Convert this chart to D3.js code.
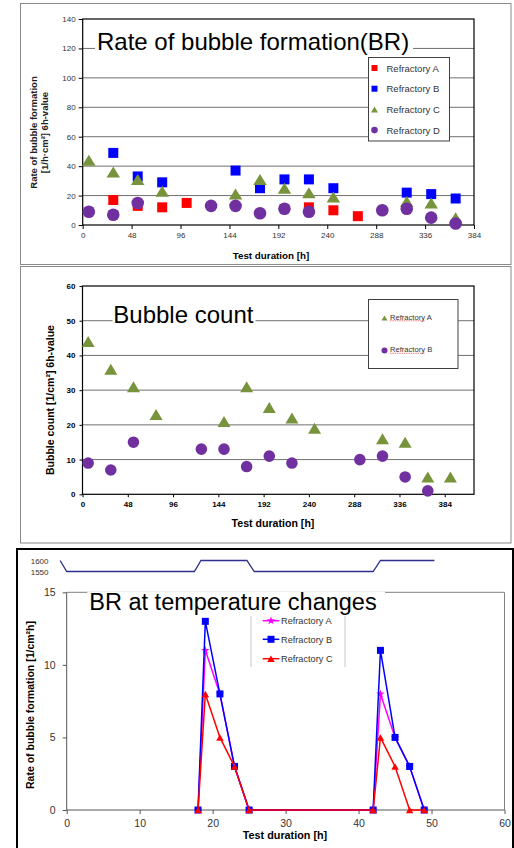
<!DOCTYPE html>
<html><head><meta charset="utf-8">
<script src="https://cdn.jsdelivr.net/npm/d3@7"></script>
<style>
body{margin:0;background:#fff}
svg{display:block;font-family:"Liberation Sans",Arial,sans-serif}
</style>
</head><body><svg id="c" width="514" height="848"></svg>
<script>
// ---------- Panel 1: Rate of bubble formation (BR) ----------
const p1XTicks = [0,48,96,144,192,240,288,336,384];
const p1YTicks = [0,20,40,60,80,100,120,140];
const p1AX = [30,54,78,102,222,246,270];
const p1AY = [17,13,12,15,12,10,6];
const p1BX = [30,54,78,150,174,198,222,246,318,342,366];
const p1BY = [49,33,29,37,25,31,31,25,22,21,18];
const p1CX = [6,30,54,78,150,174,198,222,246,318,342,366];
const p1CY = [44,36,31,23,21,31,25,22,19,16,15,5];
const p1DX = [6,30,54,126,150,174,198,222,294,318,342,366];
const p1DY = [9,7,15,13,13,8,11,9,10,11,5,1];
const p1Legend = ["Refractory A","Refractory B","Refractory C","Refractory D"];

// ---------- Panel 2: Bubble count ----------
const p2XTicks = [0,48,96,144,192,240,288,336,384];
const p2YTicks = [0,10,20,30,40,50,60];
const p2AX = [6,30,54,78,150,174,198,222,246,318,342,366,390];
const p2AY = [44,36,31,23,21,31,25,22,19,16,15,5,5];
const p2BX = [6,30,54,126,150,174,198,222,294,318,342,366];
const p2BY = [9,7,15,13,13,8,11,9,10,11,5,1];
const p2Legend = ["Refractory A","Refractory B"];

// ---------- Panel 3: BR at temperature changes ----------
const p3XTicks = [0,10,20,30,40,50,60];
const p3YTicks = [0,5,10,15];
const p3X  = [18,19,21,23,25,42,43,45,47,49];
const p3A  = [0,11,8,3,0,0,8,5,3,0];
const p3B  = [0,13,8,3,0,0,11,5,3,0];
const p3C  = [0,8,5,3,0,0,5,3,0,0];
const p3Legend = ["Refractory A","Refractory B","Refractory C"];
const tempX = [-0.9,0,17.5,18.4,24.7,25.7,42,43,50.4];
const tempY = [1600,1550,1550,1600,1600,1550,1550,1600,1600];
const tempTicks = [1550,1600];

const RED="#FF0000", BLUE="#0000FF", GREEN="#77933C", PURPLE="#7030A0", MAG="#FF00FF";
const svg = d3.select("#c");

function tri(w,h){ return `M0,${-h/2}L${w/2},${h/2}L${-w/2},${h/2}Z`; }
function sq(s){ return `M${-s/2},${-s/2}h${s}v${s}h${-s}Z`; }
function circ(r){ return `M${r},0A${r},${r} 0 1,1 ${-r},0A${r},${r} 0 1,1 ${r},0Z`; }

function styleAxis(g, size, weight, color){
  g.select(".domain").remove();
  g.selectAll("text").attr("font-size",size).attr("font-weight",weight).attr("fill",color)
   .attr("font-family",'"Liberation Sans",Arial,sans-serif');
  g.selectAll("line").attr("stroke","#000");
}

// ================= PANEL 1 =================
svg.append("rect").attr("x",20.5).attr("y",3.5).attr("width",490.5).attr("height",261)
  .attr("fill","#fff").attr("stroke","#8a8a8a");
const x1 = d3.scaleLinear().domain([0,384]).range([82.7,474]);
const y1 = d3.scaleLinear().domain([0,140]).range([225,19]);
const g1 = svg.append("g");
g1.selectAll(".grid").data(p1YTicks.filter(d=>d>0&&d<140)).join("line")
  .attr("x1",x1(0)).attr("x2",x1(384)).attr("y1",d=>y1(d)).attr("y2",d=>y1(d))
  .attr("stroke","#707070").attr("stroke-width",1);
g1.append("rect").attr("x",x1(0)).attr("y",y1(140)).attr("width",x1(384)-x1(0)).attr("height",y1(0)-y1(140))
  .attr("fill","none").attr("stroke","#000").attr("stroke-width",1.2);
const ax1y = g1.append("g").attr("transform",`translate(${x1(0)},0)`)
  .call(d3.axisLeft(y1).tickValues(p1YTicks).tickSize(4).tickPadding(3));
styleAxis(ax1y,8,"normal","#333");
const ax1x = g1.append("g").attr("transform",`translate(0,${y1(0)})`)
  .call(d3.axisBottom(x1).tickValues(p1XTicks).tickSize(4).tickPadding(3));
styleAxis(ax1x,8,"normal","#333");
// series
g1.selectAll(".a").data(p1AX.map((x,i)=>[x,p1AY[i]])).join("path")
  .attr("transform",d=>`translate(${x1(d[0])},${y1(d[1])})`).attr("d",sq(10)).attr("fill",RED);
g1.selectAll(".b").data(p1BX.map((x,i)=>[x,p1BY[i]])).join("path")
  .attr("transform",d=>`translate(${x1(d[0])},${y1(d[1])})`).attr("d",sq(10)).attr("fill",BLUE);
g1.selectAll(".c").data(p1CX.map((x,i)=>[x,p1CY[i]])).join("path")
  .attr("transform",d=>`translate(${x1(d[0])},${y1(d[1])})`).attr("d",tri(13.5,11)).attr("fill",GREEN);
g1.selectAll(".d").data(p1DX.map((x,i)=>[x,p1DY[i]])).join("path")
  .attr("transform",d=>`translate(${x1(d[0])},${y1(d[1])})`).attr("d",circ(6.3)).attr("fill",PURPLE);
// title
g1.append("rect").attr("x",95).attr("y",28).attr("width",318).attr("height",27).attr("fill","#fff");
g1.append("text").attr("x",97).attr("y",49.5).attr("font-size",24).attr("fill","#000").text("Rate of bubble formation(BR)");
// legend
g1.append("rect").attr("x",368.5).attr("y",57.5).attr("width",81).attr("height",83.5).attr("fill","#fff").attr("stroke","#404040");
const l1Marks=[sq(6),sq(6),tri(7,6),circ(3.3)], l1Col=[RED,BLUE,GREEN,PURPLE];
p1Legend.forEach((t,i)=>{
  const yy = 68 + i*20.7;
  g1.append("path").attr("transform",`translate(374.5,${yy})`).attr("d",l1Marks[i]).attr("fill",l1Col[i]);
  g1.append("text").attr("x",386.5).attr("y",yy+3.5).attr("font-size",9.5).attr("fill","#333").text(t);
});
// axis titles
g1.append("text").attr("transform","translate(36.5,132.5) rotate(-90)").attr("text-anchor","middle")
  .attr("font-size",9.5).attr("font-weight","bold").attr("fill","#222").text("Rate of bubble formation");
g1.append("text").attr("transform","translate(47.5,132.5) rotate(-90)").attr("text-anchor","middle")
  .attr("font-size",9.5).attr("font-weight","bold").attr("fill","#222").text("[1/h·cm²] 6h-value");
g1.append("text").attr("x",271).attr("y",258.5).attr("text-anchor","middle")
  .attr("font-size",9.8).attr("font-weight","bold").attr("fill","#000").text("Test duration [h]");

// ================= PANEL 2 =================
svg.append("rect").attr("x",20.5).attr("y",266.5).attr("width",490.5).attr("height",276.5)
  .attr("fill","#fff").attr("stroke","#8a8a8a");
const x2 = d3.scaleLinear().domain([0,415]).range([82.5,474]);
const y2 = d3.scaleLinear().domain([0,60]).range([494.3,286]);
const g2 = svg.append("g");
g2.selectAll(".grid").data(p2YTicks.filter(d=>d>0&&d<60)).join("line")
  .attr("x1",x2(0)).attr("x2",x2(415)).attr("y1",d=>y2(d)).attr("y2",d=>y2(d))
  .attr("stroke","#707070").attr("stroke-width",1);
g2.append("rect").attr("x",x2(0)).attr("y",y2(60)).attr("width",x2(415)-x2(0)).attr("height",y2(0)-y2(60))
  .attr("fill","none").attr("stroke","#000").attr("stroke-width",1.2);
const ax2y = g2.append("g").attr("transform",`translate(${x2(0)},0)`)
  .call(d3.axisLeft(y2).tickValues(p2YTicks).tickSize(3).tickPadding(4));
styleAxis(ax2y,8,"bold","#000");
const ax2x = g2.append("g").attr("transform",`translate(0,${y2(0)})`)
  .call(d3.axisBottom(x2).tickValues(p2XTicks).tickSize(3).tickPadding(4));
styleAxis(ax2x,8,"bold","#000");
g2.selectAll(".a").data(p2AX.map((x,i)=>[x,p2AY[i]])).join("path")
  .attr("transform",d=>`translate(${x2(d[0])},${y2(d[1])})`).attr("d",tri(13,11)).attr("fill",GREEN);
g2.selectAll(".b").data(p2BX.map((x,i)=>[x,p2BY[i]])).join("path")
  .attr("transform",d=>`translate(${x2(d[0])},${y2(d[1])})`).attr("d",circ(5.8)).attr("fill",PURPLE);
g2.append("rect").attr("x",112.5).attr("y",303).attr("width",143).attr("height",25).attr("fill","#fff");
g2.append("text").attr("x",113.3).attr("y",323.3).attr("font-size",24).attr("fill","#000").text("Bubble count");
g2.append("rect").attr("x",368.5).attr("y",299.5).attr("width",89.5).attr("height",69).attr("fill","#fff").attr("stroke","#404040");
const l2Marks=[tri(6,5),circ(3)], l2Col=[GREEN,PURPLE], l2Y=[318,350.5];
p2Legend.forEach((t,i)=>{
  const yy=l2Y[i];
  g2.append("path").attr("transform",`translate(384.5,${yy})`).attr("d",l2Marks[i]).attr("fill",l2Col[i]);
  g2.append("line").attr("x1",390).attr("x2",425).attr("y1",yy+2.8).attr("y2",yy+2.8)
    .attr("stroke","#f06060").attr("stroke-width",0.8).attr("stroke-dasharray","1.5,0.8");
  g2.append("text").attr("x",390).attr("y",yy+1.5).attr("font-size",7.6).attr("fill","#333").text(t);
});
g2.append("text").attr("transform","translate(53.5,400) rotate(-90)").attr("text-anchor","middle")
  .attr("font-size",10.5).attr("font-weight","bold").attr("fill","#000").text("Bubble count [1/cm²] 6h-value");
g2.append("text").attr("x",273).attr("y",527).attr("text-anchor","middle")
  .attr("font-size",10.6).attr("font-weight","bold").attr("fill","#000").text("Test duration [h]");

// ================= PANEL 3 =================
svg.append("rect").attr("x",17).attr("y",549).attr("width",496).attr("height",301)
  .attr("fill","#fff").attr("stroke","#000").attr("stroke-width",2);
const x3 = d3.scaleLinear().domain([0,60]).range([66.7,504.5]);
const y3 = d3.scaleLinear().domain([0,15]).range([810,592.3]);
const yT = d3.scaleLinear().domain([1550,1600]).range([571.5,560.5]);
const g3 = svg.append("g");
// temperature profile
g3.append("path").datum(tempX.map((x,i)=>[x,tempY[i]]))
  .attr("d",d3.line().x(d=>x3(d[0])).y(d=>yT(d[1])))
  .attr("fill","none").attr("stroke","#2E2E8C").attr("stroke-width",1.3);
tempTicks.forEach(v=>{
  g3.append("text").attr("x",48.5).attr("y",yT(v)+3).attr("text-anchor","end")
    .attr("font-size",8).attr("fill","#333").text(v);
});
// plot frame
g3.append("line").attr("x1",x3(0)).attr("x2",x3(60)).attr("y1",y3(15)).attr("y2",y3(15)).attr("stroke","#808080");
g3.append("line").attr("x1",x3(60)).attr("x2",x3(60)).attr("y1",y3(15)).attr("y2",y3(0)).attr("stroke","#808080");
g3.append("line").attr("x1",x3(0)).attr("x2",x3(0)).attr("y1",y3(15)).attr("y2",y3(0)).attr("stroke","#555");
g3.append("line").attr("x1",x3(0)).attr("x2",x3(60)).attr("y1",y3(0)).attr("y2",y3(0)).attr("stroke","#555");
const ax3y = g3.append("g").attr("transform",`translate(${x3(0)},0)`)
  .call(d3.axisLeft(y3).tickValues(p3YTicks).tickSize(4).tickPadding(7));
styleAxis(ax3y,10.5,"normal","#333"); ax3y.selectAll("line").attr("stroke","#555");
const ax3x = g3.append("g").attr("transform",`translate(0,${y3(0)})`)
  .call(d3.axisBottom(x3).tickValues(p3XTicks).tickSize(4).tickPadding(6));
styleAxis(ax3x,10.5,"normal","#333"); ax3x.selectAll("line").attr("stroke","#555");
// legend (behind title box)
g3.append("line").attr("x1",251).attr("x2",251).attr("y1",606).attr("y2",667).attr("stroke","#c8c8c8");
g3.append("line").attr("x1",345).attr("x2",345).attr("y1",606).attr("y2",667).attr("stroke","#c8c8c8");
// title
g3.append("rect").attr("x",87.3).attr("y",591.7).attr("width",297.7).attr("height",24.5).attr("fill","#fff");
g3.append("text").attr("x",89.3).attr("y",609.5).attr("font-size",23.5).attr("fill","#000").text("BR at temperature changes");
const lineGen = d3.line().x(d=>x3(d[0])).y(d=>y3(d[1]));
const p3Series = [
  {vals:p3A, col:MAG, mark:d3.symbol(d3.symbolStar,22)()},
  {vals:p3B, col:BLUE, mark:sq(7)},
  {vals:p3C, col:RED, mark:tri(7.5,6.5)}
];
p3Series.forEach(s=>{
  const pts = p3X.map((x,i)=>[x,s.vals[i]]);
  g3.append("path").datum(pts).attr("d",lineGen).attr("fill","none").attr("stroke",s.col).attr("stroke-width",1.5);
  g3.selectAll(null).data(pts).join("path")
    .attr("transform",d=>`translate(${x3(d[0])},${y3(d[1])})`).attr("d",s.mark).attr("fill",s.col);
});
p3Series.forEach((s,i)=>{
  const yy=[620.7,639.3,658.7][i];
  g3.append("line").attr("x1",262.7).attr("x2",279.3).attr("y1",yy).attr("y2",yy).attr("stroke",s.col).attr("stroke-width",1.5);
  g3.append("path").attr("transform",`translate(271,${yy})`).attr("d",s.mark).attr("fill",s.col);
  g3.append("text").attr("x",281).attr("y",yy+3.3).attr("font-size",9.2).attr("fill","#333").text(p3Legend[i]);
});
g3.append("text").attr("transform","translate(33.5,705) rotate(-90)").attr("text-anchor","middle")
  .attr("font-size",10.5).attr("font-weight","bold").attr("fill","#000").text("Rate of bubble formation [1/cm²h]");
g3.append("text").attr("x",285).attr("y",838.5).attr("text-anchor","middle")
  .attr("font-size",10.8).attr("font-weight","bold").attr("fill","#000").text("Test duration [h]");
</script></body></html>
